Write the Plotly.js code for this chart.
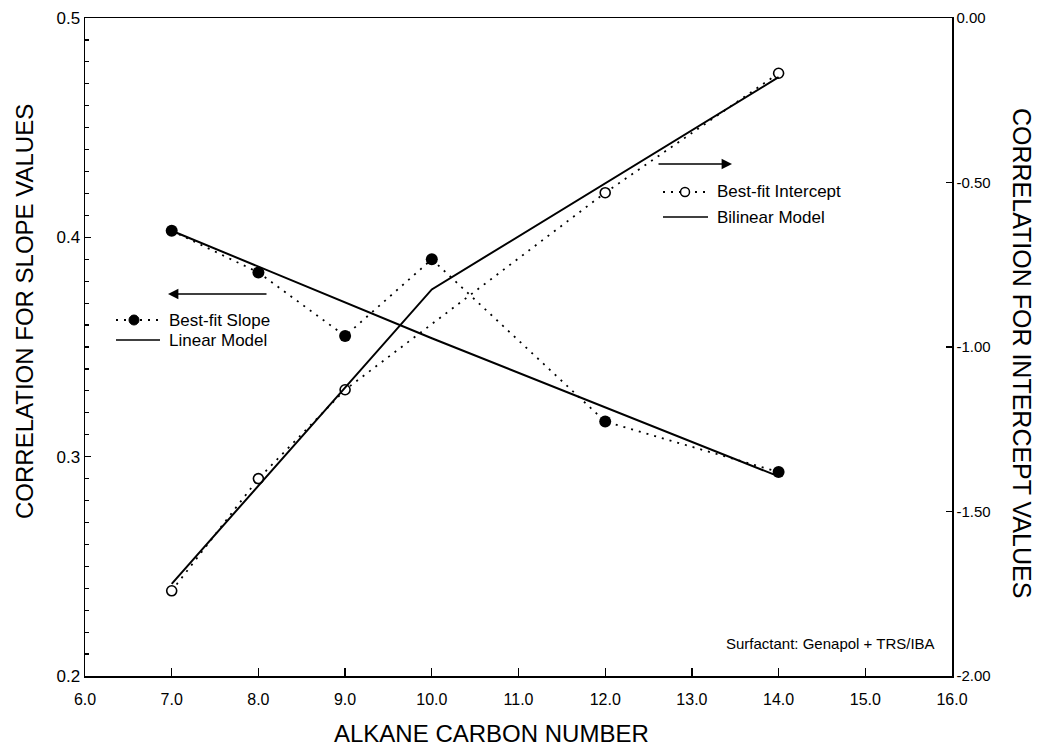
<!DOCTYPE html>
<html>
<head>
<meta charset="utf-8">
<script src="https://cdn.plot.ly/plotly-3.0.1.min.js"></script>
<style>html,body{margin:0;padding:0;background:#fff;}#chart{width:1045px;height:748px;}</style>
</head>
<body>
<div id="chart"></div>
<script>
// ---- data ----
const carbonSlope = [7, 8, 9, 10, 12, 14];
const bestFitSlope = [0.403, 0.384, 0.355, 0.390, 0.316, 0.293];
const linearX = [7, 10, 14];
const linearModel = [0.403, 0.354, 0.291];
const carbonIntercept = [7, 8, 9, 12, 14];
const bestFitIntercept = [-1.741, -1.400, -1.130, -0.531, -0.168];
const bilinearX = [7, 10, 14];
const bilinearModel = [-1.720, -0.825, -0.180];
const xTickVals = [6, 7, 8, 9, 10, 11, 12, 13, 14, 15, 16];
const leftTickVals = [0.2, 0.3, 0.4, 0.5];
const rightTickVals = [0, -0.5, -1, -1.5, -2];
const rightTickText = ["0.00", "-0.50", "-1.00", "-1.50", "-2.00"];

// ---- layout geometry ----
const W = 1045, H = 748;
const M = {l: 85, r: 93, t: 18, b: 72};
const PW = W - M.l - M.r, PH = H - M.t - M.b;
const px = v => (v - M.l) / PW;          // page px -> paper x
const py = v => (H - M.b - v) / PH;      // page px -> paper y
const FONT = '"Liberation Sans", Arial, Helvetica, sans-serif';
const dotDash = '2px,6px';

const traces = [
  {x: carbonSlope, y: bestFitSlope, type: 'scatter', mode: 'lines+markers', name: 'Best-fit Slope',
   line: {color: '#000', width: 1.8, dash: dotDash},
   marker: {symbol: 'circle', size: 12, color: '#000'}},
  {x: linearX, y: linearModel, type: 'scatter', mode: 'lines', name: 'Linear Model',
   line: {color: '#000', width: 2}},
  {x: carbonIntercept, y: bestFitIntercept, type: 'scatter', mode: 'lines+markers', name: 'Best-fit Intercept',
   yaxis: 'y2', line: {color: '#000', width: 1.8, dash: dotDash},
   marker: {symbol: 'circle', size: 10, color: '#fff', line: {color: '#000', width: 1.6}}},
  {x: bilinearX, y: bilinearModel, type: 'scatter', mode: 'lines', name: 'Bilinear Model',
   yaxis: 'y2', line: {color: '#000', width: 2}}
];

// manual legends
const shapes = [
  {type: 'line', xref: 'paper', yref: 'paper', x0: px(116), x1: px(160), y0: py(320), y1: py(320),
   line: {color: '#000', width: 1.8, dash: dotDash}},
  {type: 'circle', xref: 'paper', yref: 'paper', xsizemode: 'pixel', ysizemode: 'pixel',
   xanchor: px(134), yanchor: py(320), x0: -5, x1: 5, y0: -5, y1: 5,
   fillcolor: '#000', line: {color: '#000', width: 1}},
  {type: 'line', xref: 'paper', yref: 'paper', x0: px(116), x1: px(160), y0: py(340), y1: py(340),
   line: {color: '#000', width: 1.5}},
  {type: 'line', xref: 'paper', yref: 'paper', x0: px(663), x1: px(708), y0: py(192), y1: py(192),
   line: {color: '#000', width: 1.8, dash: dotDash}},
  {type: 'circle', xref: 'paper', yref: 'paper', xsizemode: 'pixel', ysizemode: 'pixel',
   xanchor: px(685), yanchor: py(192), x0: -4.5, x1: 4.5, y0: -4.5, y1: 4.5,
   fillcolor: '#fff', line: {color: '#000', width: 1.5}},
  {type: 'line', xref: 'paper', yref: 'paper', x0: px(663), x1: px(708), y0: py(217), y1: py(217),
   line: {color: '#000', width: 1.5}}
];

const ann = (text, x, y, opts) => Object.assign({
  text: text, xref: 'paper', yref: 'paper', x: px(x), y: py(y), showarrow: false,
  font: {family: FONT, size: 17, color: '#000'}
}, opts || {});

const annotations = [
  ann('Best-fit Slope', 167, 320, {xanchor: 'left', yanchor: 'middle'}),
  ann('Linear Model', 167, 340, {xanchor: 'left', yanchor: 'middle'}),
  ann('Best-fit Intercept', 715, 192, {xanchor: 'left', yanchor: 'middle'}),
  ann('Bilinear Model', 715, 217, {xanchor: 'left', yanchor: 'middle'}),
  ann('Surfactant: Genapol + TRS/IBA', 937, 643, {xanchor: 'right', yanchor: 'middle', font: {family: FONT, size: 15, color: '#000'}}),
  ann('ALKANE CARBON NUMBER', 491, 733, {xanchor: 'center', yanchor: 'middle', font: {family: FONT, size: 24, color: '#000'}}),
  ann('CORRELATION FOR SLOPE VALUES', 24, 312, {xanchor: 'center', yanchor: 'middle', textangle: -90, font: {family: FONT, size: 24, color: '#000'}}),
  ann('CORRELATION FOR INTERCEPT VALUES', 1022, 353, {xanchor: 'center', yanchor: 'middle', textangle: 90, font: {family: FONT, size: 25, color: '#000'}}),
  // arrows
  {xref: 'paper', yref: 'paper', x: px(168), y: py(294), ax: 100, ay: 0, text: '', showarrow: true,
   arrowhead: 2, arrowsize: 1.3, arrowwidth: 1.6, arrowcolor: '#000'},
  {xref: 'paper', yref: 'paper', x: px(732), y: py(164), ax: -75, ay: 0, text: '', showarrow: true,
   arrowhead: 2, arrowsize: 1.3, arrowwidth: 1.6, arrowcolor: '#000'}
];

const layout = {
  width: W, height: H,
  margin: M,
  paper_bgcolor: '#fff', plot_bgcolor: '#fff',
  showlegend: false,
  font: {family: FONT, color: '#000', size: 16},
  xaxis: {
    range: [6, 16], tickvals: xTickVals, tickformat: '.1f',
    ticks: 'inside', ticklen: 8, tickwidth: 1.4, tickcolor: '#000',
    showline: true, mirror: true, linecolor: '#000', linewidth: 1.5,
    showgrid: false, zeroline: false, ticklabelstandoff: 8,
    tickfont: {family: FONT, size: 16, color: '#000'}
  },
  yaxis: {
    range: [0.2, 0.5], tickvals: leftTickVals, tickformat: '.1f',
    ticks: 'inside', ticklen: 6, tickwidth: 1.4, tickcolor: '#000',
    minor: {dtick: 0.01, ticks: 'inside', ticklen: 4, tickwidth: 1.2, tickcolor: '#000', showgrid: false},
    showline: true, linecolor: '#000', linewidth: 1.5,
    showgrid: false, zeroline: false,
    tickfont: {family: FONT, size: 17, color: '#000'}
  },
  yaxis2: {
    range: [-2, 0], overlaying: 'y', side: 'right',
    tickvals: rightTickVals, ticktext: rightTickText,
    ticks: 'inside', ticklen: 6, tickwidth: 1.4, tickcolor: '#000',
    showline: true, linecolor: '#000', linewidth: 1.5,
    showgrid: false, zeroline: false,
    tickfont: {family: FONT, size: 15, color: '#000'}
  },
  shapes: shapes,
  annotations: annotations
};

Plotly.newPlot('chart', traces, layout, {staticPlot: true, displayModeBar: false});
</script>
</body>
</html>
